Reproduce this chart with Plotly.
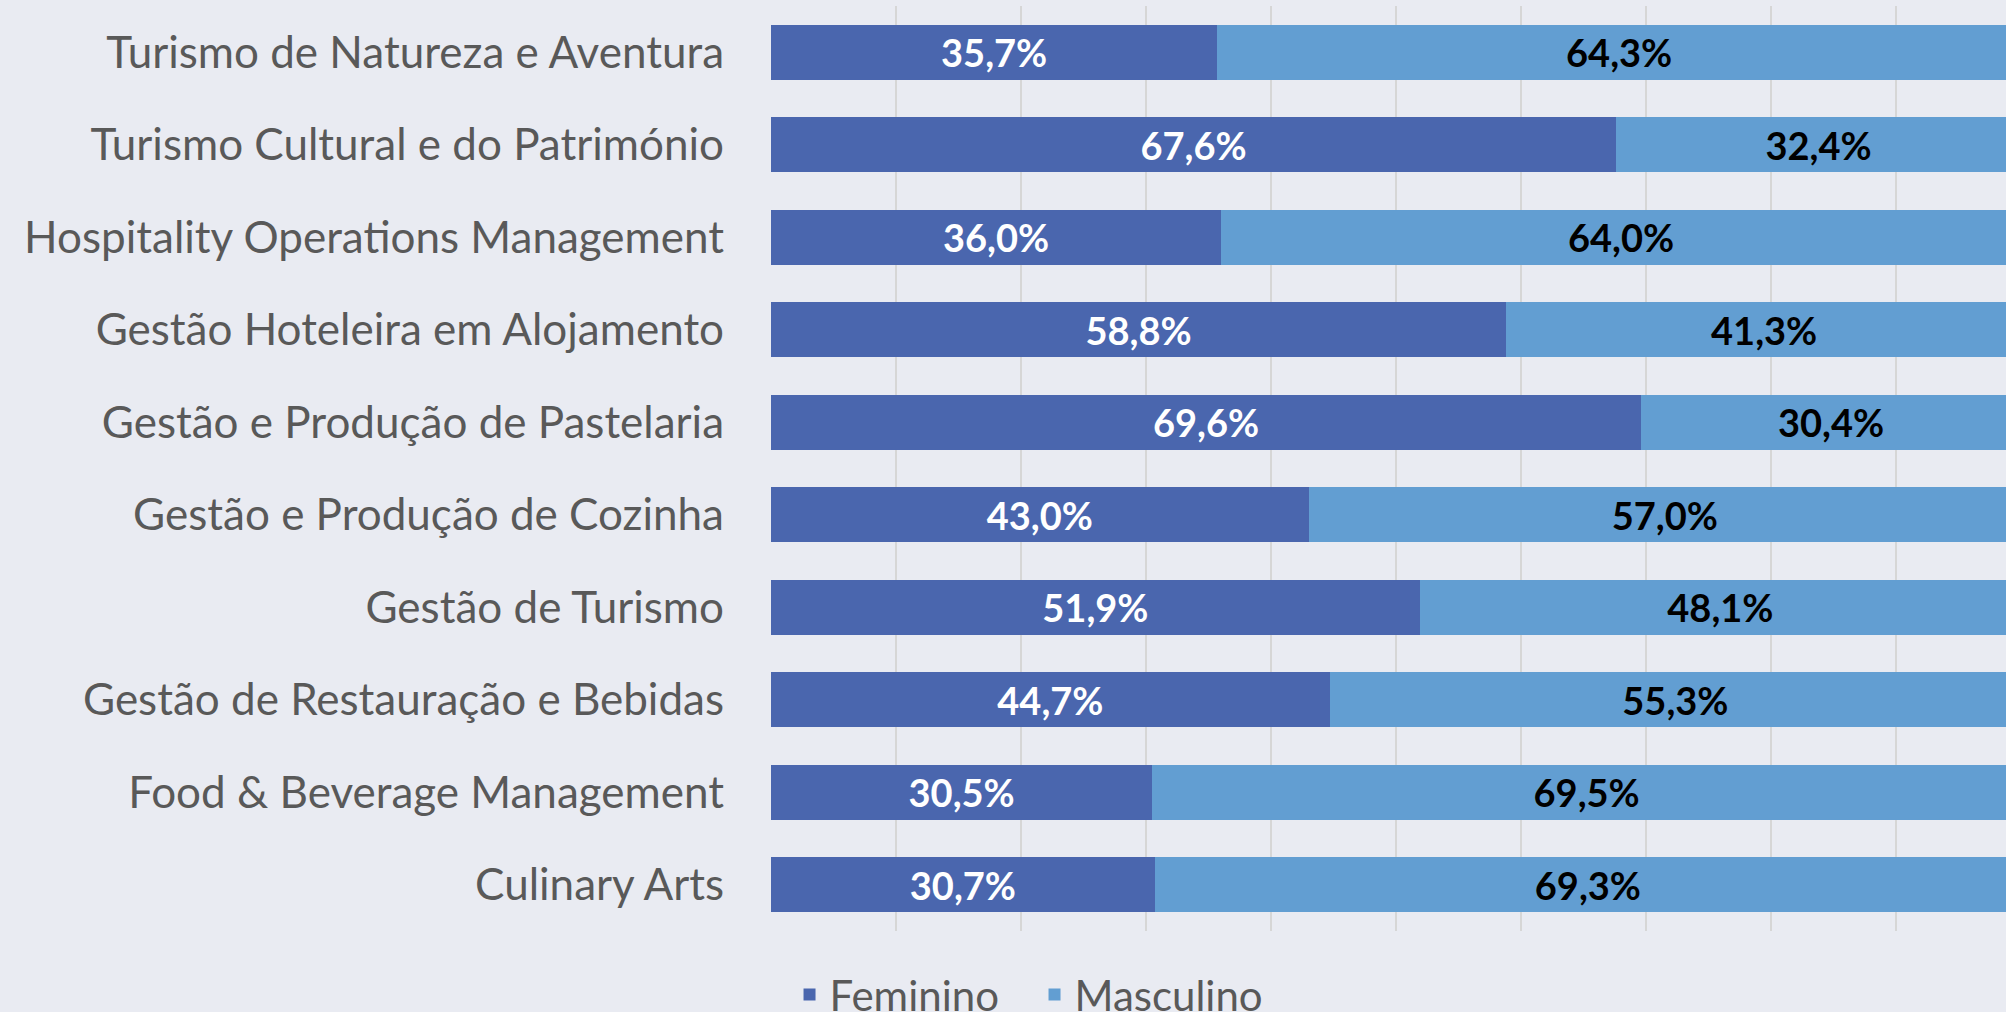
import plotly.graph_objects as go

categories = [
    "Culinary Arts",
    "Food & Beverage Management",
    "Gestão de Restauração e Bebidas",
    "Gestão de Turismo",
    "Gestão e Produção de Cozinha",
    "Gestão e Produção de Pastelaria",
    "Gestão Hoteleira em Alojamento",
    "Hospitality Operations Management",
    "Turismo Cultural e do Património",
    "Turismo de Natureza e Aventura",
]
feminino = [30.7, 30.5, 44.7, 51.9, 43.0, 69.6, 58.8, 36.0, 67.6, 35.7]
masculino = [69.3, 69.5, 55.3, 48.1, 57.0, 30.4, 41.3, 64.0, 32.4, 64.3]

fig = go.Figure()
fig.add_trace(go.Bar(
    y=categories, x=feminino, name="Feminino", orientation="h",
    marker=dict(color="#4A66AE", line=dict(width=0)),
    texttemplate="%{x:.1f}%", textposition="inside", insidetextanchor="middle",
    textfont=dict(family="Lato", size=38, color="white", weight="bold"),
))
fig.add_trace(go.Bar(
    y=categories, x=masculino, name="Masculino", orientation="h",
    marker=dict(color="#629ED2", line=dict(width=0)),
    texttemplate="%{x:.1f}%", textposition="inside", insidetextanchor="middle",
    textfont=dict(family="Lato", size=38, color="black", weight="bold"),
))

fig.update_layout(
    barmode="stack",
    bargap=0.41,
    width=2006, height=1012,
    margin=dict(l=771, r=0, t=6, b=81, autoexpand=False),
    paper_bgcolor="#E9EBF2",
    plot_bgcolor="rgba(0,0,0,0)",
    separators=", ",
    font=dict(family="Lato", color="#595959"),
    xaxis=dict(range=[0, 98.8], dtick=10, showticklabels=False,
               showgrid=True, gridcolor="#D6D6D6", gridwidth=1.5,
               zeroline=False, fixedrange=True),
    yaxis=dict(tickfont=dict(family="Lato", size=44, color="#595959"),
               ticklabelstandoff=46, showgrid=False, zeroline=False,
               showline=False),
    legend=dict(orientation="h", x=0.015, xanchor="left", y=-0.032, yanchor="top",
                font=dict(family="Lato", size=42, color="#595959"),
                entrywidth=200, entrywidthmode="pixels",
                traceorder="normal", bgcolor="rgba(0,0,0,0)"),
    uniformtext=dict(minsize=38, mode="show"),
)

fig.write_html("out.html", config={"displayModeBar": False},
               post_script="document.body.style.margin='0';document.body.style.overflow='hidden';")
